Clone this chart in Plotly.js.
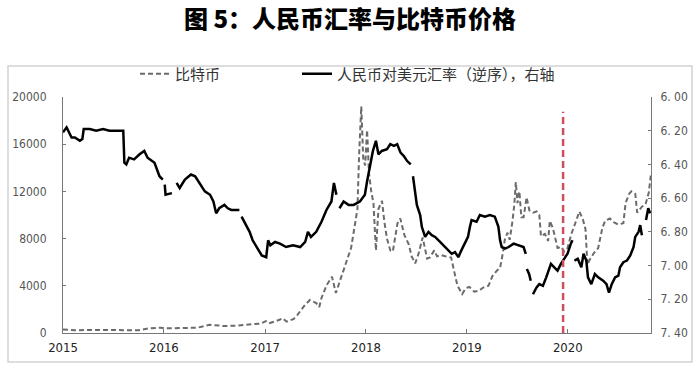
<!DOCTYPE html>
<html>
<head>
<meta charset="utf-8">
<script src="https://cdn.plot.ly/plotly-3.0.1.min.js"></script>
<style>html,body{margin:0;padding:0;background:#fff;}#chart{width:700px;height:369px;}</style>
</head>
<body>
<div id="chart"></div>
<script>
// ---- Data ----
const titleText = '图 5：人民币汇率与比特币价格';
const btcName = '比特币';
const fxName = '人民币对美元汇率（逆序），右轴';

const btcDates = ['2015-01-01','2015-02-15','2015-04-01','2015-05-15','2015-07-01','2015-08-15','2015-10-01','2015-11-05','2015-12-15',
'2016-01-15','2016-03-01','2016-05-01','2016-06-15','2016-08-01','2016-09-15','2016-11-01','2016-12-15',
'2017-01-04','2017-01-15','2017-02-20','2017-03-05','2017-03-20','2017-04-15','2017-04-28','2017-05-25','2017-06-12','2017-07-05','2017-07-16','2017-07-24','2017-08-12','2017-08-31','2017-09-14','2017-09-28','2017-10-20','2017-11-08','2017-11-20','2017-12-01','2017-12-07','2017-12-15','2017-12-22','2017-12-29',
'2018-01-05','2018-01-12','2018-01-20','2018-01-28','2018-02-06','2018-02-15','2018-02-28','2018-03-08','2018-03-18','2018-03-30','2018-04-08','2018-04-25','2018-05-05','2018-05-20','2018-06-05','2018-06-15','2018-06-28','2018-07-10','2018-07-25','2018-08-10','2018-08-20','2018-09-05','2018-09-15','2018-10-01','2018-10-15','2018-11-05','2018-11-20','2018-11-28','2018-12-15','2018-12-28',
'2019-01-10','2019-01-28','2019-02-15','2019-03-01','2019-03-20','2019-04-03','2019-04-20','2019-05-01','2019-05-12','2019-05-18','2019-05-28','2019-06-05','2019-06-15','2019-06-22','2019-06-27','2019-07-03','2019-07-10','2019-07-17','2019-07-25','2019-08-05','2019-08-15','2019-08-28','2019-09-10','2019-09-20','2019-09-26','2019-10-10','2019-10-22','2019-10-28','2019-11-08','2019-11-25','2019-12-10','2019-12-18','2019-12-31',
'2020-01-14','2020-01-28','2020-02-12','2020-02-25','2020-03-05','2020-03-12','2020-03-20','2020-04-05','2020-04-20','2020-05-05','2020-05-15','2020-06-01','2020-06-15','2020-07-01','2020-07-20','2020-07-28','2020-08-10','2020-08-18','2020-09-01','2020-09-08','2020-09-25','2020-10-08','2020-10-20','2020-10-28'];
const btcPrice = [300,240,250,235,260,250,240,380,450,
400,420,450,700,600,610,700,800,
1000,820,1100,1250,960,1200,1530,2370,2800,2540,2200,2970,4070,4770,3390,4350,6040,7200,8900,10500,15000,19200,14800,14200,
17200,13500,12000,11000,7000,10500,11200,9500,8000,7000,6900,9300,9700,8300,7500,6500,5900,6700,8100,6300,6400,7000,6500,6600,6500,6400,4800,4000,3300,3800,
3900,3500,3600,3850,4000,4800,5300,5500,6900,7900,8500,7900,9500,11000,12800,11000,12000,9800,9800,11500,10400,10200,10300,10000,8200,8400,7800,9500,8900,7200,7300,6900,7200,
8400,9300,10300,9600,8800,5800,6200,6800,7200,8900,9500,9700,9400,9200,9300,11000,11800,12000,11800,10200,10700,10900,11900,13500];

const fxDates = ['2015-01-01','2015-01-14','2015-02-01','2015-02-13','2015-03-03','2015-03-12','2015-03-17','2015-04-08','2015-05-01','2015-05-26','2015-06-18','2015-08-07','2015-08-11','2015-08-18','2015-08-28','2015-09-15','2015-10-05','2015-10-22','2015-11-03','2015-11-28','2015-12-16','2015-12-28','2016-01-02',
'2016-01-04','2016-01-07','2016-01-30','2016-02-08','2016-02-16','2016-02-27','2016-03-17','2016-04-08','2016-04-23','2016-05-10','2016-05-28','2016-06-16','2016-06-28','2016-07-08','2016-07-19','2016-08-07','2016-08-19','2016-09-01','2016-09-30','2016-10-04',
'2016-10-08','2016-10-26','2016-11-06','2016-11-17','2016-12-01','2016-12-20','2017-01-05','2017-01-12','2017-01-20','2017-02-06','2017-02-24','2017-03-18','2017-04-12','2017-05-08','2017-05-26','2017-06-05','2017-06-16','2017-07-05','2017-07-24','2017-08-11','2017-08-29','2017-09-07','2017-09-16','2017-09-22',
'2017-09-27','2017-10-12','2017-10-30','2017-11-17','2017-12-10','2017-12-28','2018-01-05','2018-01-15','2018-01-26','2018-02-06','2018-02-15','2018-02-27','2018-03-18','2018-03-30','2018-04-12','2018-04-24','2018-05-06','2018-05-18','2018-05-30','2018-06-12','2018-06-16',
'2018-06-20','2018-06-29','2018-07-04','2018-07-16','2018-07-22','2018-08-03','2018-08-15','2018-08-27','2018-09-08','2018-09-26','2018-10-14','2018-10-26','2018-11-07','2018-11-19','2018-12-01','2018-12-12','2018-12-24',
'2019-01-05','2019-01-12','2019-01-18','2019-02-05','2019-02-17','2019-03-07','2019-03-25','2019-04-12','2019-04-25','2019-05-01','2019-05-07','2019-05-19','2019-06-01','2019-06-19','2019-07-07','2019-07-25','2019-08-02','2019-08-04',
'2019-08-06','2019-08-14','2019-08-20','2019-08-24','2019-08-28','2019-09-10','2019-09-20','2019-10-03','2019-10-15','2019-11-01','2019-11-13','2019-11-25','2019-12-07','2019-12-20','2019-12-31','2020-01-12','2020-01-18','2020-01-21',
'2020-01-25','2020-02-06','2020-02-19','2020-02-27','2020-03-08','2020-03-14','2020-03-26','2020-04-08','2020-04-20','2020-05-08','2020-05-20','2020-05-29','2020-06-08','2020-06-20','2020-07-02','2020-07-08','2020-07-20','2020-08-02','2020-08-14','2020-08-26','2020-09-01','2020-09-13','2020-09-19','2020-09-25','2020-10-01',
'2020-10-10','2020-10-18','2020-10-25'];
const fxRate = [6.21,6.18,6.24,6.24,6.26,6.25,6.19,6.19,6.20,6.19,6.20,6.20,6.39,6.40,6.36,6.37,6.34,6.32,6.36,6.39,6.47,6.49,null,
6.52,6.58,6.57,null,6.51,6.54,6.49,6.46,6.47,6.51,6.56,6.58,6.62,6.69,6.66,6.64,6.66,6.67,6.67,null,
6.71,6.77,6.80,6.85,6.89,6.94,6.95,6.85,6.88,6.86,6.87,6.89,6.88,6.89,6.86,6.80,6.83,6.80,6.74,6.67,6.62,6.51,6.58,null,
6.66,6.62,6.64,6.64,6.62,6.58,6.50,6.42,6.32,6.26,6.34,6.32,6.31,6.28,6.29,6.28,6.33,6.35,6.38,6.40,null,
6.47,6.58,6.64,6.70,6.77,6.83,6.80,6.82,6.83,6.86,6.89,6.91,6.93,6.92,6.95,6.91,6.87,
6.83,6.77,6.73,6.74,6.70,6.71,6.70,6.71,6.77,6.85,6.89,6.90,6.89,6.87,6.88,6.89,6.93,null,
7.02,7.05,7.09,null,7.17,7.13,7.11,7.12,7.07,6.99,7.01,7.03,6.99,6.96,6.93,6.87,6.85,null,
6.97,6.96,7.01,6.93,6.97,7.07,7.11,7.05,7.07,7.09,7.11,7.16,7.11,7.07,7.06,7.01,6.98,6.97,6.94,6.89,6.83,6.80,6.76,6.82,null,
6.73,6.66,6.69];

const yearTicks = ['2015-01-01','2016-01-01','2017-01-01','2018-01-01','2019-01-01','2020-01-01'];
const yearLabels = ['2015','2016','2017','2018','2019','2020'];
const leftTicks = [0,4000,8000,12000,16000,20000];
const leftLabels = ['0','4000','8000','12000','16000','20000'];
const rightTicks = [6.0,6.2,6.4,6.6,6.8,7.0,7.2,7.4];
const rightLabels = ['6. 00','6. 20','6. 40','6. 60','6. 80','7. 00','7. 20','7. 40'];
const markerDate = '2019-12-15';

const tickFont = {family:'"Liberation Sans Narrow","DejaVu Sans Condensed","Liberation Sans",sans-serif', size:12, color:'#555'};
const legendFont = {family:'"Noto Sans CJK SC",sans-serif', size:15, color:'#333'};

const traces = [
  {x: btcDates, y: btcPrice, name: btcName, type:'scatter', mode:'lines', yaxis:'y', legend:'legend',
   line:{color:'#6b6b6b', width:2, dash:'5px,3px'}},
  {x: fxDates, y: fxRate, name: fxName, type:'scatter', mode:'lines', yaxis:'y2', legend:'legend2', connectgaps:false,
   line:{color:'#000000', width:2.5}}
];

const legendY = (333-74)/236;
const layout = {
  width:700, height:369,
  margin:{l:63, r:49, t:97, b:36},
  paper_bgcolor:'#ffffff', plot_bgcolor:'#ffffff',
  showlegend:true,
  title:{text: titleText, x:0.5, xanchor:'center', y:1-20/369, yanchor:'middle', yref:'container',
         font:{family:'"Noto Sans CJK SC",sans-serif', size:24, color:'#000', weight:900}},
  legend:{orientation:'h', x:(135-63)/588, xanchor:'left', y:legendY, yanchor:'middle',
          font:legendFont, bgcolor:'rgba(0,0,0,0)'},
  legend2:{orientation:'h', x:(297-63)/588, xanchor:'left', y:legendY, yanchor:'middle',
          font:legendFont, bgcolor:'rgba(0,0,0,0)'},
  xaxis:{type:'date', range:['2015-01-01','2020-10-28'], tickvals:yearTicks, ticktext:yearLabels,
         showgrid:false, zeroline:false, showline:true, linecolor:'#777', linewidth:1,
         ticks:'inside', ticklen:4, tickcolor:'#777', ticklabelstandoff:2,
         tickfont:{family:'"Liberation Sans Narrow","DejaVu Sans Condensed","Liberation Sans",sans-serif', size:13, color:'#222'}},
  yaxis:{range:[0,20000], tickvals:leftTicks, ticktext:leftLabels, showgrid:false, zeroline:false, showline:true,
         linecolor:'#777', linewidth:1, ticks:'inside', ticklen:3, tickcolor:'#777', tickfont:tickFont,
         ticklabelstandoff:13},
  yaxis2:{overlaying:'y', side:'right', range:[7.4,6.0], tickvals:rightTicks, ticktext:rightLabels,
          showgrid:false, zeroline:false, showline:true, linecolor:'#777', linewidth:1,
          ticks:'inside', ticklen:3, tickcolor:'#777', tickfont:tickFont, ticklabelstandoff:6},
  shapes:[
    {type:'line', xref:'x', yref:'paper', x0:markerDate, x1:markerDate, y0:0, y1:0.938,
     line:{color:'#cc4f5c', width:2.5, dash:'7px,4px'}},
    {type:'rect', xref:'paper', yref:'paper', x0:(8-63)/588, x1:(692-63)/588, y0:(333-362)/236, y1:(333-66)/236,
     line:{color:'#d2d2d2', width:1.5}, fillcolor:'rgba(0,0,0,0)', layer:'below'}
  ]
};

Plotly.newPlot('chart', traces, layout, {displayModeBar:false, staticPlot:true});
</script>
</body>
</html>
